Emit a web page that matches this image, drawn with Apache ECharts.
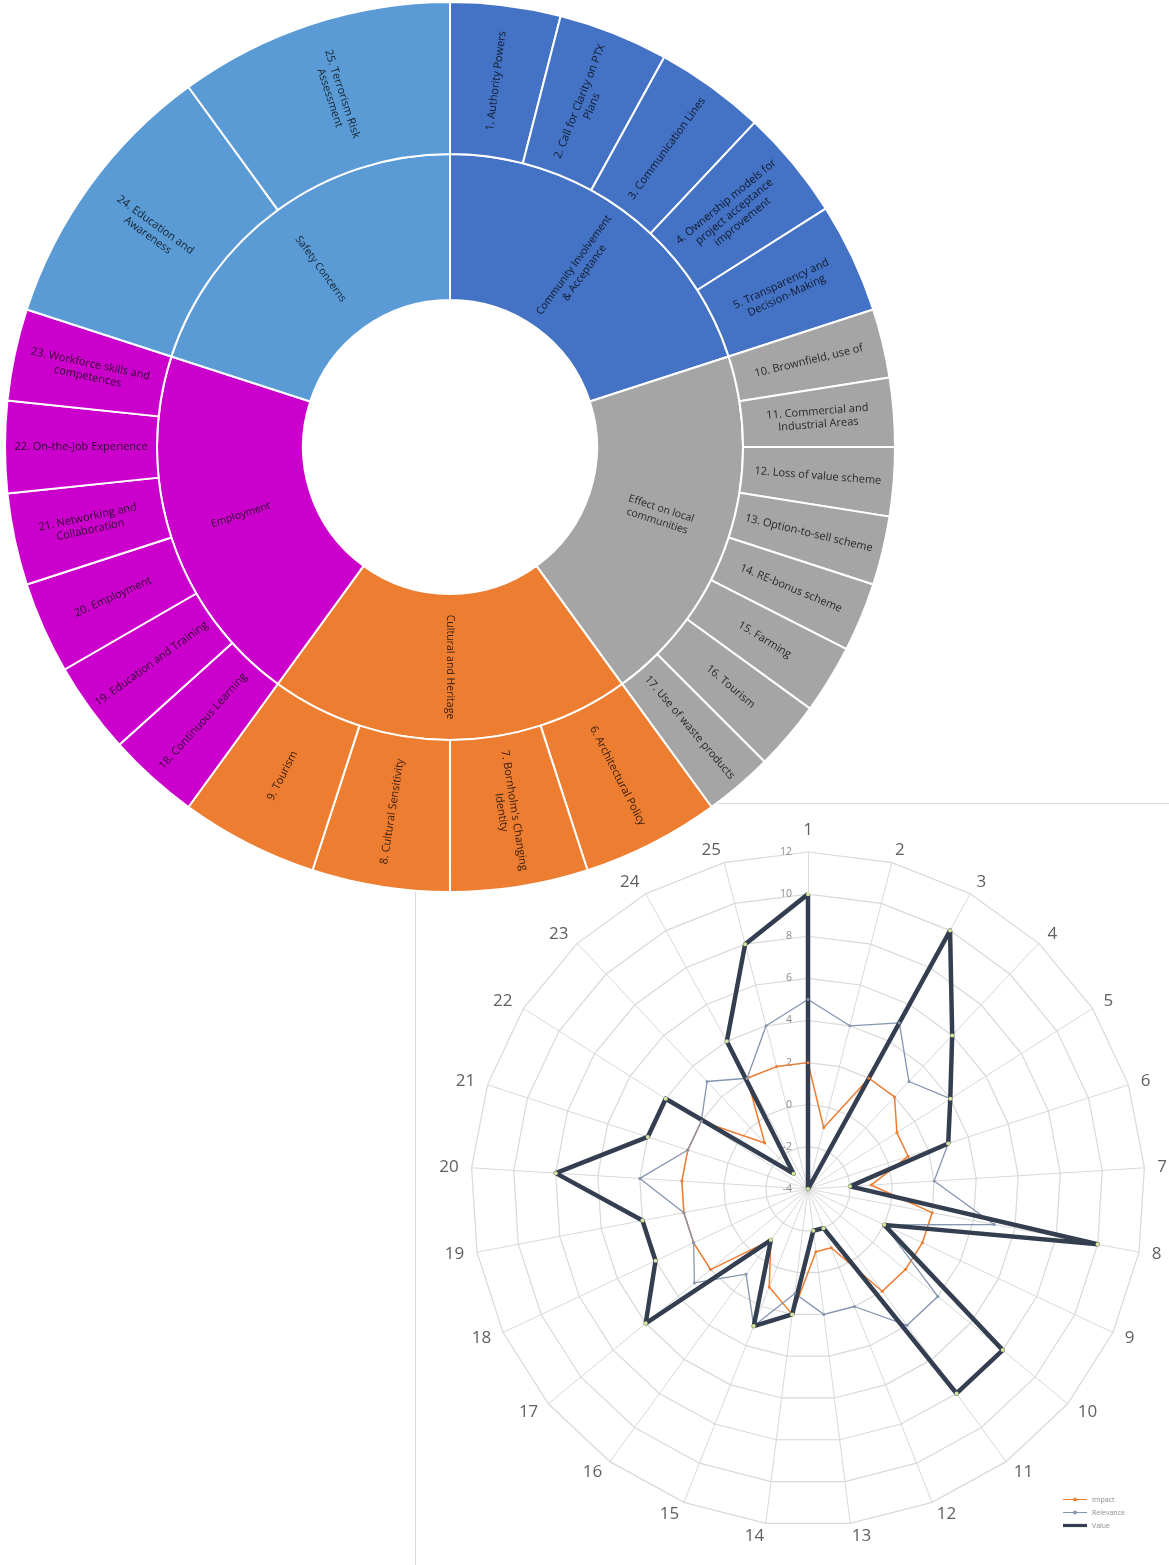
<!DOCTYPE html>
<html>
<head>
<meta charset="utf-8">
<script src="https://cdn.jsdelivr.net/npm/echarts@6/dist/echarts.min.js"></script>
<style>
html,body{margin:0;padding:0;background:#fff;}
#c{width:1169px;height:1565px;}
</style>
</head>
<body>
<div id="c"></div>
<script>
// ---------- Sunburst data ----------
const groupNames = ["Community Involvement\n& Acceptance", "Effect on local\ncommunities", "Cultural and Heritage", "Employment", "Safety Concerns"];

const communityLeaves = ["1. Authority Powers", "2. Call for Clarity on PTX\nPlans", "3. Communication Lines", "4. Ownership models for\nproject acceptance\nimprovement", "5. Transparency and\nDecision-Making"];
const communityShares = [1, 1, 1, 1, 1];

const effectLeaves = ["10. Brownfield, use of", "11. Commercial and\nIndustrial Areas", "12. Loss of value scheme", "13. Option-to-sell scheme", "14. RE-bonus scheme", "15. Farming", "16. Tourism", "17. Use of waste products"];
const effectShares = [0.625, 0.625, 0.625, 0.625, 0.625, 0.625, 0.625, 0.625];

const cultureLeaves = ["6. Architectural Policy", "7. Bornholm's Changing\nIdentity", "8. Cultural Sensitivity", "9. Tourism"];
const cultureShares = [1.25, 1.25, 1.25, 1.25];

const employmentLeaves = ["18. Continuous Learning", "19. Education and Training", "20. Employment", "21. Networking and\nCollaboration", "22. On-the-Job Experience", "23. Workforce skills and\ncompetences"];
const employmentShares = [0.8333, 0.8333, 0.8333, 0.8333, 0.8333, 0.8333];

const safetyLeaves = ["24. Education and\nAwareness", "25. Terrorism Risk\nAssessment"];
const safetyShares = [2.5, 2.5];

// ---------- Radar data ----------
const radarAxes = ["1","2","3","4","5","6","7","8","9","10","11","12","13","14","15","16","17","18","19","20","21","22","23","24","25"];
const impact    = [2, -1, 2, 2, 1, 1, -1, 2, 2, 2, 2, -1, -1, 2, 1, -1, 2, 2, 2, 2, 2, 2, -1, 2, 2];
const relevance = [5, 4, 5, 3, 4, 3, 2, 5, 0, 4, 4, 2, 2, 1, 3, 1, 3, 2, 2, 4, 2, 2, 3, 2, 4];
const valueScore= [10, -4, 10, 6, 4, 3, -2, 10, 0, 8, 8, -2, -2, 2, 3, -1, 6, 4, 4, 8, 4, 4, -3, 4, 8];
const radarMin = -4, radarMax = 12;
const legendNames = ["Impact", "Relevance", "Value"];

// ---------- styles ----------
const groupColors = ["#4472C4", "#A5A5A5", "#ED7D31", "#CC00CC", "#5B9BD5"];
const seriesColors = ["#ED7D31", "#8595b0", "#333F50"];
const FONT = "'Open Sans', 'Noto Sans', sans-serif";

function leaves(names, shares, color) {
  return names.map((n, i) => ({ name: n, value: shares[i], itemStyle: { color: color } }));
}
const groupLeaves = [
  leaves(communityLeaves, communityShares, groupColors[0]),
  leaves(effectLeaves, effectShares, groupColors[1]),
  leaves(cultureLeaves, cultureShares, groupColors[2]),
  leaves(employmentLeaves, employmentShares, groupColors[3]),
  leaves(safetyLeaves, safetyShares, groupColors[4])
];
const sunData = groupNames.map((g, i) => ({
  name: g,
  itemStyle: { color: groupColors[i] },
  children: groupLeaves[i]
}));

// radar in ECharts runs counter-clockwise; reorder so axes run clockwise like the original
const order = [0];
for (let k = radarAxes.length - 1; k >= 1; k--) order.push(k);
const pick = arr => order.map(k => arr[k]);

const indicators = pick(radarAxes).map((n, idx) => {
  const o = { name: n, min: radarMin, max: radarMax };
  if (idx === 0) o.axisLabel = { show: true };
  return o;
});

const chart = echarts.init(document.getElementById('c'), null, { renderer: 'canvas' });
const option = {
  backgroundColor: '#ffffff',
  animation: false,
  textStyle: { fontFamily: FONT },
  graphic: [{
    type: 'rect', z: -10, silent: true,
    shape: { x: 415.5, y: 803.5, width: 800, height: 800 },
    style: { fill: '#ffffff', stroke: '#d9d9d9', lineWidth: 1 }
  }],
  legend: {
    orient: 'vertical', left: 1058, top: 1491, itemGap: 6,
    itemWidth: 24, itemHeight: 6,
    textStyle: { fontSize: 7, color: '#8c8c8c', fontFamily: FONT },
    data: [
      { name: legendNames[0], icon: 'path://M0,4.5h30v1.5h-30z M13,3h4v4.5h-4z', itemStyle: { color: seriesColors[0] } },
      { name: legendNames[1], icon: 'path://M0,4.5h30v1.5h-30z M13,3h4v4.5h-4z', itemStyle: { color: seriesColors[1] } },
      { name: legendNames[2], icon: 'path://M0,3h30v4h-30z', itemStyle: { color: seriesColors[2] } }
    ]
  },
  radar: {
    center: [808, 1189],
    radius: 337,
    startAngle: 90,
    shape: 'polygon',
    splitNumber: 8,
    nameGap: 13,
    axisName: { color: '#606060', fontSize: 17, fontFamily: FONT },
    axisLine: { lineStyle: { color: '#d9d9d9', width: 1 } },
    splitLine: { lineStyle: { color: '#d9d9d9', width: 1.2 } },
    splitArea: { show: false },
    axisTick: { show: false },
    axisLabel: { show: false, color: '#8c8c8c', fontSize: 10.5, margin: 16, fontFamily: FONT },
    indicator: indicators
  },
  series: [
    {
      type: 'sunburst',
      center: [450, 447],
      radius: [147, 445],
      sort: null,
      startAngle: 90,
      nodeClick: false,
      z: 5,
      itemStyle: { borderColor: '#ffffff', borderWidth: 2 },
      label: { rotate: 'radial', fontSize: 10.5, color: 'rgba(0,0,0,0.78)', fontFamily: FONT, lineHeight: 13 },
      emphasis: { disabled: true },
      levels: [
        {},
        { r0: 147, r: 293, label: { fontSize: 10.5 } },
        { r0: 293, r: 445, label: { fontSize: 11 } }
      ],
      data: sunData
    },
    {
      type: 'radar',
      name: 'radarSeries',
      z: 2,
      data: [
        {
          name: legendNames[0], value: pick(impact),
          symbol: 'circle', symbolSize: 3,
          lineStyle: { color: seriesColors[0], width: 1.5 },
          itemStyle: { color: seriesColors[0] }
        },
        {
          name: legendNames[1], value: pick(relevance),
          symbol: 'circle', symbolSize: 3,
          lineStyle: { color: seriesColors[1], width: 1.3 },
          itemStyle: { color: seriesColors[1] }
        },
        {
          name: legendNames[2], value: pick(valueScore),
          symbol: 'circle', symbolSize: 4,
          lineStyle: { color: seriesColors[2], width: 4.5 },
          itemStyle: { color: '#d6e39c', borderWidth: 0 }
        }
      ]
    }
  ]
};
chart.setOption(option);
</script>
</body>
</html>
